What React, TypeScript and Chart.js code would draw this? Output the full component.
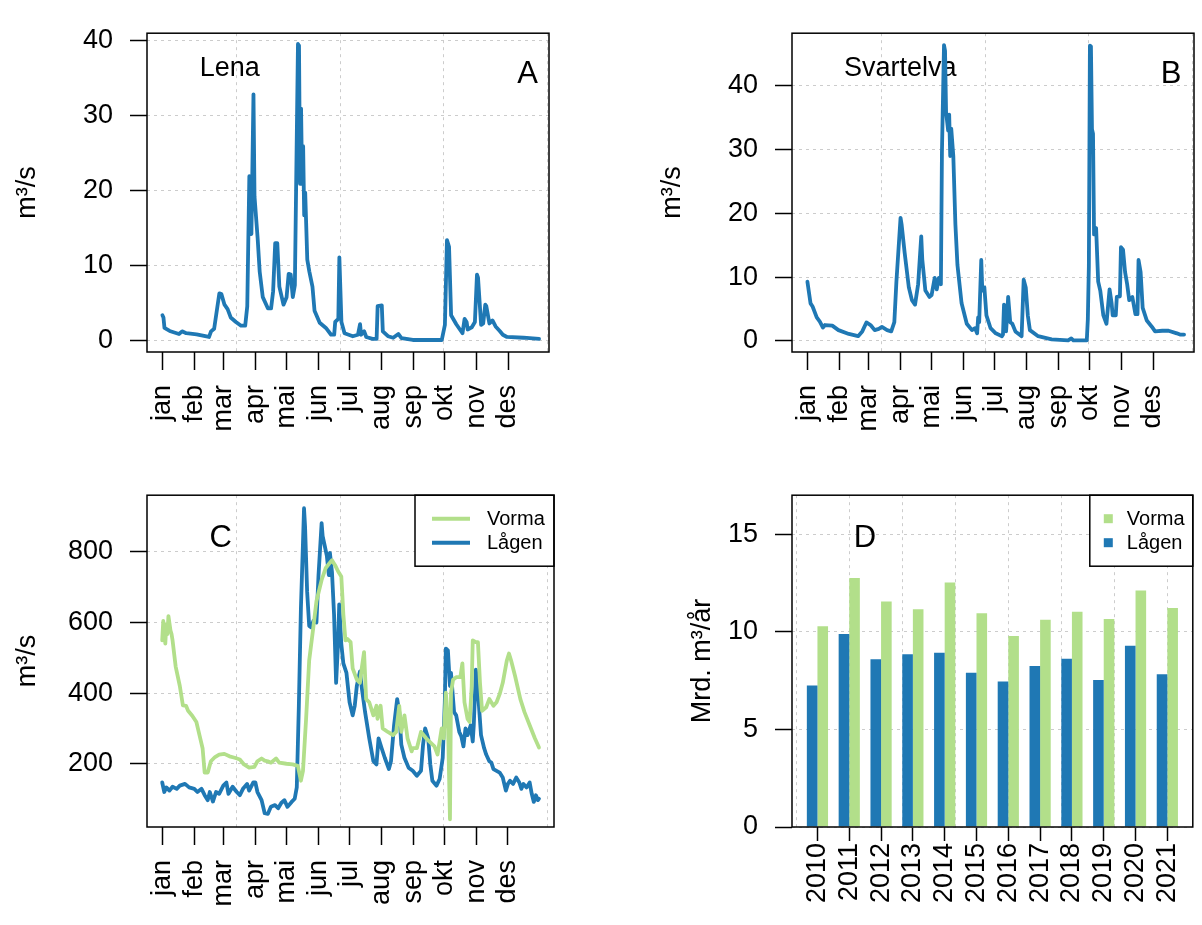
import React, { useEffect, useRef } from 'react';
import { Chart, registerables } from 'chart.js';

Chart.register(...registerables);

const FONT = "'Liberation Sans', Arial, Helvetica, sans-serif";
const BLUE = '#1f78b4';
const GREEN = '#b2df8a';
const GRID_COLOR = '#cccccc';
const GRID_DASH = [3, 4];

Chart.defaults.font.family = FONT;
Chart.defaults.color = '#000';

// ---- shared month axis ----
const monthLabels = ['jan', 'feb', 'mar', 'apr', 'mai', 'jun', 'jul', 'aug', 'sep', 'okt', 'nov', 'des'];
const monthStarts = [1, 32, 60, 91, 121, 152, 182, 213, 244, 274, 305, 335];
const dayGrid = [73, 173, 273, 373];

// ---- A: Lena ----
const lenaDays = [1, 2, 3, 8, 17, 20, 24, 34, 46, 48, 51, 56, 58, 61, 64, 67, 72, 77, 81, 83, 85, 87, 89, 90, 93, 95, 98, 103, 106, 108, 110, 112, 114, 118, 121, 123, 125, 127, 129, 132, 133, 134, 135, 136, 137, 138, 139, 141, 143, 146, 148, 153, 159, 164, 167, 168, 171, 172, 174, 177, 185, 190, 192, 193, 196, 198, 204, 208, 209, 213, 214, 219, 224, 229, 232, 243, 253, 271, 274, 276, 278, 280, 285, 291, 293, 295, 296, 300, 303, 305, 306, 309, 311, 313, 314, 317, 320, 323, 327, 330, 334, 350, 365];
const lenaFlow = [3.4, 3.1, 1.7, 1.3, 0.9, 1.25, 1.0, 0.85, 0.5, 1.25, 1.6, 6.3, 6.2, 4.8, 4.2, 3.1, 2.5, 2.0, 2.0, 4.6, 21.9, 14.2, 32.8, 19.2, 13.7, 9.2, 5.8, 4.3, 4.3, 6.6, 13.0, 13.0, 7.2, 4.8, 5.8, 8.9, 8.8, 5.8, 7.4, 39.5, 39.3, 20.9, 30.9, 20.9, 25.9, 16.7, 19.7, 10.8, 9.2, 7.2, 4.0, 2.4, 1.7, 0.8, 0.8, 2.5, 2.9, 11.1, 2.5, 1.0, 0.6, 0.8, 2.2, 0.8, 1.25, 0.5, 0.25, 0.25, 4.6, 4.7, 1.25, 0.6, 0.4, 0.9, 0.35, 0.1, 0.1, 0.1, 2.1, 13.4, 12.5, 3.4, 2.2, 1.0, 2.9, 2.5, 1.5, 1.8, 2.5, 8.8, 8.4, 2.1, 2.3, 4.8, 4.6, 2.3, 2.7, 1.9, 1.3, 0.8, 0.5, 0.4, 0.25];
const lenaTicks = [0, 10, 20, 30, 40];

// ---- B: Svartelva ----
const svartDays = [1, 4, 6, 10, 13, 16, 18, 25, 31, 41, 50, 54, 58, 62, 66, 70, 73, 78, 82, 85, 87, 91, 92, 95, 99, 102, 105, 108, 111, 112, 115, 119, 121, 124, 126, 128, 130, 131, 133, 134, 135, 137, 138, 139, 140, 142, 144, 146, 150, 155, 160, 163, 165, 166, 167, 169, 170, 172, 174, 178, 183, 189, 190, 191, 193, 194, 195, 197, 199, 202, 208, 210, 212, 214, 216, 224, 237, 253, 256, 258, 271, 272, 273, 274, 275, 276, 277, 278, 280, 282, 284, 287, 290, 293, 295, 296, 299, 300, 303, 304, 306, 308, 310, 312, 315, 318, 320, 321, 323, 325, 329, 334, 337, 344, 350, 358, 361, 365];
const svartFlow = [9.3, 5.9, 5.4, 3.7, 3.05, 2.1, 2.5, 2.4, 1.7, 1.1, 0.75, 1.5, 2.9, 2.5, 1.7, 1.9, 2.2, 1.7, 1.5, 2.95, 9.3, 19.3, 18.3, 13.8, 8.4, 6.4, 5.7, 8.9, 16.4, 12.8, 7.9, 6.9, 7.2, 9.9, 8.1, 9.9, 8.9, 29.5, 46.4, 45.5, 35.9, 33, 35.5, 29, 33.3, 29, 18.3, 11.9, 5.9, 2.7, 1.7, 2.0, 1.2, 3.7, 2.95, 12.7, 7.9, 8.4, 4.0, 2.0, 1.2, 0.75, 1.0, 5.7, 1.5, 4.0, 6.9, 2.95, 2.7, 1.5, 0.75, 9.6, 8.4, 4.0, 1.7, 0.75, 0.25, 0.1, 0.4, 0.1, 0.1, 3.4, 11.8, 46.3, 46.2, 33.2, 32.5, 16.7, 17.7, 9.3, 7.9, 4.0, 2.7, 8.1, 5.9, 4.0, 4.0, 6.9, 7.0, 14.7, 14.3, 10.8, 8.9, 6.4, 6.9, 4.2, 4.2, 12.7, 10.8, 5.2, 3.2, 2.2, 1.5, 1.6, 1.6, 1.2, 1.0, 1.0];
const svartTicks = [0, 10, 20, 30, 40];

// ---- C: Vorma / Lågen daily ----
const vormaDays = [1, 2, 4, 5, 6, 7, 9, 10, 11, 14, 18, 21, 24, 26, 30, 34, 37, 40, 42, 45, 48, 52, 56, 61, 66, 71, 76, 80, 85, 90, 93, 97, 100, 103, 106, 111, 114, 121, 127, 132, 135, 137, 140, 143, 147, 150, 155, 159, 163, 165, 168, 171, 174, 175, 176, 178, 180, 183, 185, 189, 192, 194, 196, 198, 201, 205, 208, 209, 212, 214, 219, 224, 227, 230, 232, 235, 238, 242, 243, 247, 251, 256, 259, 264, 267, 271, 273, 275, 277, 279, 280, 282, 285, 289, 291, 293, 296, 298, 300, 301, 304, 306, 308, 310, 314, 317, 321, 324, 327, 330, 334, 336, 338, 342, 347, 351, 356, 361, 365];
const vormaFlow = [549, 604, 540, 595, 567, 618, 577, 567, 549, 475, 420, 365, 364, 350, 336, 318, 281, 244, 175, 175, 207, 219, 226, 228, 221, 217, 212, 198, 189, 191, 207, 215, 209, 207, 203, 215, 203, 200, 198, 194, 152, 180, 327, 493, 586, 660, 720, 754, 769, 776, 762, 744, 730, 678, 623, 549, 553, 544, 470, 438, 429, 475, 516, 383, 374, 337, 364, 327, 364, 300, 290, 281, 290, 364, 290, 337, 272, 235, 244, 244, 290, 272, 263, 249, 226, 300, 272, 401, 327, 43, 401, 438, 445, 445, 484, 374, 327, 318, 420, 549, 544, 544, 429, 350, 360, 383, 364, 374, 397, 429, 493, 512, 493, 447, 383, 346, 309, 272, 246];
const lagenDays = [1, 3, 5, 8, 11, 15, 18, 23, 27, 32, 35, 39, 42, 45, 47, 50, 53, 56, 60, 63, 65, 69, 73, 76, 79, 83, 85, 89, 91, 93, 97, 100, 103, 106, 110, 113, 116, 119, 122, 126, 129, 131, 133, 135, 137, 138, 139, 141, 143, 145, 147, 150, 152, 155, 156, 158, 160, 162, 163, 165, 167, 169, 171, 172, 174, 176, 179, 182, 185, 187, 189, 192, 194, 197, 201, 205, 208, 210, 213, 216, 220, 222, 225, 228, 230, 232, 235, 239, 243, 247, 251, 253, 255, 258, 260, 262, 266, 269, 272, 274, 275, 277, 279, 280, 283, 285, 288, 290, 292, 294, 296, 299, 301, 302, 304, 305, 307, 309, 312, 314, 317, 319, 321, 324, 327, 330, 333, 335, 337, 340, 343, 346, 348, 350, 353, 356, 358, 360, 362, 364, 365];
const lagenFlow = [147, 120, 133, 124, 135, 129, 138, 143, 133, 129, 120, 129, 111, 97, 120, 93, 120, 115, 138, 147, 115, 135, 120, 111, 129, 143, 124, 147, 147, 120, 97, 60, 58, 78, 83, 74, 89, 97, 78, 92, 101, 133, 364, 641, 826, 923, 872, 687, 590, 586, 604, 600, 734, 881, 844, 817, 789, 734, 797, 743, 623, 429, 549, 651, 540, 484, 457, 374, 337, 364, 420, 461, 411, 346, 272, 207, 198, 272, 244, 217, 185, 207, 309, 383, 346, 254, 217, 189, 180, 166, 180, 254, 300, 272, 198, 152, 138, 157, 217, 374, 526, 521, 420, 457, 346, 337, 290, 277, 249, 300, 281, 309, 263, 309, 466, 438, 364, 281, 244, 226, 207, 203, 185, 180, 175, 161, 124, 143, 152, 143, 161, 147, 129, 143, 133, 147, 115, 92, 111, 97, 101];
const cTicks = [200, 400, 600, 800];

// ---- D: annual volumes ----
const years = [2010, 2011, 2012, 2013, 2014, 2015, 2016, 2017, 2018, 2019, 2020, 2021];
const lagenAnnual = [7.26, 9.9, 8.6, 8.85, 8.93, 7.91, 7.46, 8.25, 8.62, 7.54, 9.29, 7.83];
const vormaAnnual = [10.29, 12.77, 11.56, 11.16, 12.54, 10.96, 9.79, 10.63, 11.03, 10.66, 12.12, 11.23];
const dTicks = [0, 5, 10, 15];
const yearGrid = [2009.333, 2011, 2012.667, 2014.333, 2016, 2017.667, 2019.333, 2021];

const pts = (xs: number[], ys: number[]) => xs.map((x, i) => ({ x, y: ys[i] }));

// ---- plugins ----
const framePlugin = {
  id: 'frame',
  afterDraw(chart: any) {
    const { ctx, chartArea: a } = chart;
    ctx.save();
    ctx.strokeStyle = '#000';
    ctx.lineWidth = 1.5;
    ctx.setLineDash([]);
    ctx.strokeRect(a.left, a.top, a.right - a.left, a.bottom - a.top);
    ctx.restore();
  },
};

function textPlugin(items: any[]) {
  return {
    id: 'panelTexts',
    beforeDatasetsDraw(chart: any) {
      const { ctx } = chart;
      const xs = chart.scales.x;
      const ys = chart.scales.y;
      ctx.save();
      for (const it of items) {
        ctx.font = `${it.size}px ${FONT}`;
        ctx.fillStyle = '#000';
        ctx.textAlign = it.align;
        ctx.textBaseline = 'alphabetic';
        ctx.fillText(it.text, xs.getPixelForValue(it.x), ys.getPixelForValue(it.y));
      }
      ctx.restore();
    },
  };
}

function boxLegendPlugin(entries: any[], kind: string, width: number) {
  return {
    id: 'boxLegend',
    afterDatasetsDraw(chart: any) {
      const { ctx, chartArea: a } = chart;
      const h = 71;
      const left = a.right - width;
      const top = a.top;
      ctx.save();
      ctx.fillStyle = '#fff';
      ctx.fillRect(left, top, width, h);
      ctx.strokeStyle = '#000';
      ctx.lineWidth = 1.5;
      ctx.setLineDash([]);
      ctx.strokeRect(left, top, width, h);
      entries.forEach((e, i) => {
        const y = top + 23.5 + i * 24;
        if (kind === 'line') {
          ctx.strokeStyle = e.color;
          ctx.lineWidth = 4;
          ctx.lineCap = 'butt';
          ctx.beginPath();
          ctx.moveTo(left + 17, y);
          ctx.lineTo(left + 55, y);
          ctx.stroke();
        } else {
          ctx.fillStyle = e.color;
          ctx.fillRect(left + 14, y - 4.5, 9, 9);
        }
        ctx.fillStyle = '#000';
        ctx.font = `20px ${FONT}`;
        ctx.textAlign = 'left';
        ctx.textBaseline = 'middle';
        ctx.fillText(e.label, left + (kind === 'line' ? 72 : 37), y + 1);
      });
      ctx.restore();
    },
  };
}

// ---- axis builders ----
function yAxis(o: any) {
  return {
    type: 'linear',
    position: 'left',
    display: true,
    min: o.min,
    max: o.max,
    afterBuildTicks: (s: any) => {
      s.ticks = o.ticks.map((v: number) => ({ value: v }));
    },
    afterFit: (s: any) => {
      s.width = 147;
    },
    ticks: { padding: 17, color: '#000', font: { size: 27, family: FONT }, callback: (v: any) => String(v) },
    grid: { color: GRID_COLOR, lineWidth: 1, tickColor: '#000', tickWidth: 1.5, tickLength: 17, tickBorderDash: [] },
    border: { display: false, dash: GRID_DASH },
    title: {
      display: true,
      text: o.title,
      color: '#000',
      font: { size: 27, family: FONT },
      padding: { top: o.titlePad, bottom: 0 },
    },
  };
}

function xAxis(o: any) {
  return {
    type: 'linear',
    position: 'bottom',
    display: true,
    offset: false,
    min: o.min,
    max: o.max,
    afterBuildTicks: (s: any) => {
      s.ticks = o.ticks.map((v: number) => ({ value: v }));
    },
    afterFit: (s: any) => {
      s.height = o.height;
    },
    ticks: {
      autoSkip: false,
      maxRotation: 90,
      minRotation: 90,
      padding: o.padding,
      color: '#000',
      font: { size: 27, family: FONT },
      callback: (_v: any, i: number) => o.labels[i],
    },
    grid: {
      offset: false,
      drawOnChartArea: false,
      drawTicks: true,
      tickLength: o.tickLength,
      tickColor: '#000',
      tickWidth: 1.5,
      tickBorderDash: [],
    },
    border: { display: false },
  };
}

function gridAxis(min: number, max: number, positions: number[]) {
  return {
    type: 'linear',
    position: 'bottom',
    display: true,
    offset: false,
    min,
    max,
    afterBuildTicks: (s: any) => {
      s.ticks = positions.map((v) => ({ value: v }));
    },
    afterFit: (s: any) => {
      s.height = 0;
    },
    ticks: { display: false },
    grid: { offset: false, color: GRID_COLOR, lineWidth: 1, drawTicks: false },
    border: { display: false, dash: GRID_DASH },
  };
}

function lineConfig(p: any) {
  return {
    type: 'line',
    data: {
      datasets: p.series.map((s: any) => ({
        label: s.label,
        data: s.data,
        borderColor: s.color,
        backgroundColor: s.color,
        borderWidth: 3.8,
        pointRadius: 0,
        tension: 0,
        fill: false,
        borderJoinStyle: 'round',
        borderCapStyle: 'round',
      })),
    },
    options: {
      responsive: false,
      animation: false,
      devicePixelRatio: 1,
      layout: { padding: p.padding },
      plugins: { legend: { display: false }, tooltip: { enabled: false } },
      scales: {
        x: xAxis({ min: p.xMin, max: p.xMax, ticks: monthStarts, labels: monthLabels, height: p.xHeight, tickLength: 18, padding: 15 }),
        xg: gridAxis(p.xMin, p.xMax, dayGrid),
        y: yAxis({ min: p.yMin, max: p.yMax, ticks: p.yTicks, title: 'm³/s', titlePad: p.titlePad }),
      },
    },
    plugins: [framePlugin, textPlugin(p.texts), ...(p.legend ? [p.legend] : [])],
  };
}

const makeA = () =>
  lineConfig({
    series: [{ label: 'Lena', data: pts(lenaDays, lenaFlow), color: BLUE }],
    padding: { left: 0, top: 13, right: 52, bottom: 0 },
    xMin: -13.9,
    xMax: 374.6,
    xHeight: 110,
    yMin: -1.5,
    yMax: 40.94,
    yTicks: lenaTicks,
    titlePad: 11,
    texts: [
      { text: 'Lena', x: 37, y: 35.3, align: 'left', size: 27 },
      { text: 'A', x: 364, y: 34.25, align: 'right', size: 31 },
    ],
  });

const makeB = () =>
  lineConfig({
    series: [{ label: 'Svartelva', data: pts(svartDays, svartFlow), color: BLUE }],
    padding: { left: 0, top: 13, right: 8, bottom: 0 },
    xMin: -13.9,
    xMax: 374.6,
    xHeight: 110,
    yMin: -1.73,
    yMax: 48.26,
    yTicks: svartTicks,
    titlePad: 11,
    texts: [
      { text: 'Svartelva', x: 36.4, y: 41.6, align: 'left', size: 27 },
      { text: 'B', x: 362.4, y: 40.4, align: 'right', size: 31 },
    ],
  });

const makeC = () =>
  lineConfig({
    series: [
      { label: 'Vorma', data: pts(vormaDays, vormaFlow), color: GREEN },
      { label: 'Lågen', data: pts(lagenDays, lagenFlow), color: BLUE },
    ],
    padding: { left: 0, top: 26, right: 47, bottom: 0 },
    xMin: -13.7,
    xMax: 379.5,
    xHeight: 98,
    yMin: 21,
    yMax: 960,
    yTicks: cTicks,
    titlePad: 11,
    texts: [{ text: 'C', x: 46.7, y: 812, align: 'left', size: 31 }],
    legend: boxLegendPlugin(
      [
        { label: 'Vorma', color: GREEN },
        { label: 'Lågen', color: BLUE },
      ],
      'line',
      139
    ),
  });

const makeD = () => ({
  type: 'bar',
  data: {
    datasets: [
      { label: 'Lågen', data: pts(years, lagenAnnual), backgroundColor: BLUE, borderWidth: 0, categoryPercentage: 2 / 3, barPercentage: 1 },
      { label: 'Vorma', data: pts(years, vormaAnnual), backgroundColor: GREEN, borderWidth: 0, categoryPercentage: 2 / 3, barPercentage: 1 },
    ],
  },
  options: {
    responsive: false,
    animation: false,
    devicePixelRatio: 1,
    layout: { padding: { left: 0, top: 26, right: 4, bottom: 0 } },
    plugins: { legend: { display: false }, tooltip: { enabled: false } },
    scales: {
      x: xAxis({ min: 2009.2, max: 2021.8, ticks: years, labels: years.map(String), height: 98, tickLength: 14, padding: 2 }),
      xg: gridAxis(2009.2, 2021.8, yearGrid),
      y: yAxis({ min: 0, max: 17.01, ticks: dTicks, title: 'Mrd. m³/år', titlePad: 41 }),
    },
  },
  plugins: [
    framePlugin,
    textPlugin([{ text: 'D', x: 2011.14, y: 14.33, align: 'left', size: 31 }]),
    boxLegendPlugin(
      [
        { label: 'Vorma', color: GREEN },
        { label: 'Lågen', color: BLUE },
      ],
      'square',
      103
    ),
  ],
});

function ChartCanvas({ left, top, width, height, make }: any) {
  const ref = useRef<HTMLCanvasElement | null>(null);
  useEffect(() => {
    const chart = new Chart(ref.current as HTMLCanvasElement, make() as any);
    return () => chart.destroy();
  }, []);
  return (
    <canvas
      ref={ref}
      width={width}
      height={height}
      style={{ position: 'absolute', left, top, width, height }}
    />
  );
}

export default function App() {
  return (
    <div style={{ position: 'fixed', left: 0, top: 0, width: 1202, height: 925, background: '#fff', overflow: 'hidden' }}>
      <ChartCanvas left={0} top={0} width={601} height={462} make={makeA} />
      <ChartCanvas left={645} top={0} width={557} height={462} make={makeB} />
      <ChartCanvas left={0} top={462} width={601} height={463} make={makeC} />
      <ChartCanvas left={645} top={462} width={557} height={463} make={makeD} />
    </div>
  );
}
